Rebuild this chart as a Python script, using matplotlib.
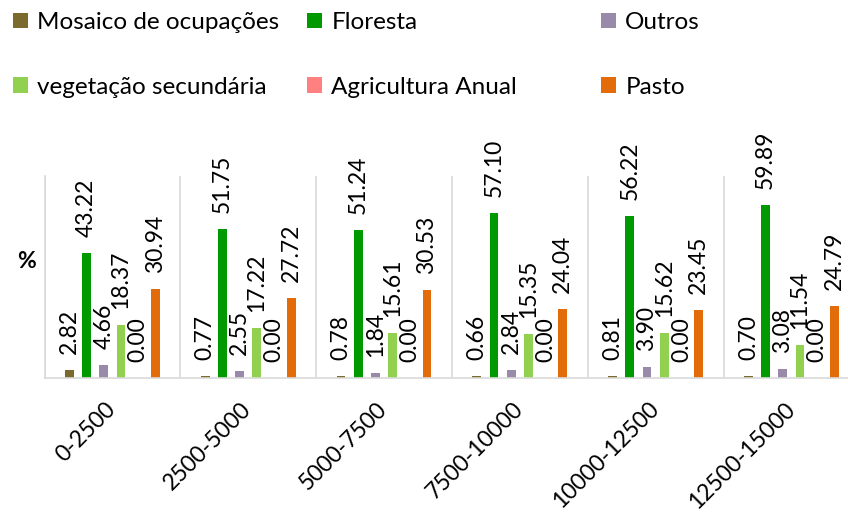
import matplotlib
matplotlib.use("Agg")
import matplotlib.pyplot as plt
import numpy as np

plt.rcParams['font.family'] = ['Lato', 'DejaVu Sans']

categories = ["0-2500", "2500-5000", "5000-7500", "7500-10000", "10000-12500", "12500-15000"]
series_names = ["Mosaico de ocupações", "Floresta", "Outros",
                "vegetação secundária", "Agricultura Anual", "Pasto"]
mosaico = [2.82, 0.77, 0.78, 0.66, 0.81, 0.70]
floresta = [43.22, 51.75, 51.24, 57.10, 56.22, 59.89]
outros = [4.66, 2.55, 1.84, 2.84, 3.90, 3.08]
vegetacao = [18.37, 17.22, 15.61, 15.35, 15.62, 11.54]
agricultura = [0.00, 0.00, 0.00, 0.00, 0.00, 0.00]
pasto = [30.94, 27.72, 30.53, 24.04, 23.45, 24.79]
series_values = [mosaico, floresta, outros, vegetacao, agricultura, pasto]
colors = ["#7A6A2C", "#009900", "#9A8AAA", "#92D050", "#FF8080", "#E26B0A"]

FS = 16.5
LFS = 17.5
fig = plt.figure(figsize=(8.48, 5.12), dpi=100)
W, H = 848, 512
ax_left, ax_right, ax_top, ax_bot = 44.5, 44.5 + 6 * 135.8, 176.0, 378.0
ax = fig.add_axes([ax_left / W, 1 - ax_bot / H, (ax_right - ax_left) / W, (ax_bot - ax_top) / H])

x = np.arange(len(categories))
step = 0.1267
bw = 0.066
handles = []
for i, (name, vals, col) in enumerate(zip(series_names, series_values, colors)):
    xs = x + (i - 2.5) * step
    b = ax.bar(xs, vals, width=bw, color=col, label=name)
    handles.append(b)
    for xi, v in zip(xs, vals):
        ax.annotate(f"{v:.2f}", (xi, v), xytext=(0, 11.5), textcoords="offset points",
                    rotation=90, ha="center", va="bottom", fontsize=FS, color="black")

ax.set_xlim(-0.5, 5.5)
ax.set_ylim(0, 70)
ax.set_yticks([])
ax.set_xticks(x)
ax.set_xticklabels(categories, rotation=45, ha="right", va="center",
                   rotation_mode="anchor", fontsize=FS)
ax.tick_params(axis="x", length=0, pad=20)
ax.set_xticks(np.arange(-0.5, 6.0, 1.0), minor=True)
ax.tick_params(axis="x", which="minor", length=0)
ax.grid(True, which="minor", axis="x", color="#D9D9D9", linewidth=1.2)
ax.set_axisbelow(True)
for s in ["top", "right"]:
    ax.spines[s].set_visible(False)
ax.spines["left"].set_color("#D9D9D9")
ax.spines["left"].set_linewidth(1.2)
ax.spines["bottom"].set_color("#D9D9D9")
ax.spines["bottom"].set_linewidth(1.2)

ax.set_ylabel("%", rotation=0, fontsize=FS, fontweight="bold", va="center", ha="center")
ax.yaxis.set_label_coords((27 - ax_left) / (ax_right - ax_left), (ax_bot - 262) / (ax_bot - ax_top))

# legend: three columns, two rows
col_x = [13, 307, 601]
for c in range(3):
    hs = [handles[c], handles[c + 3]]
    labs = [series_names[c], series_names[c + 3]]
    fig.legend(hs, labs, loc="upper left", bbox_to_anchor=(col_x[c] / W, 1 - 12 / H),
               frameon=False, fontsize=LFS, handlelength=0.6, handleheight=0.6,
               handletextpad=0.4, labelspacing=1.8, borderaxespad=0, borderpad=0)

fig.savefig("out.png", dpi=100)
